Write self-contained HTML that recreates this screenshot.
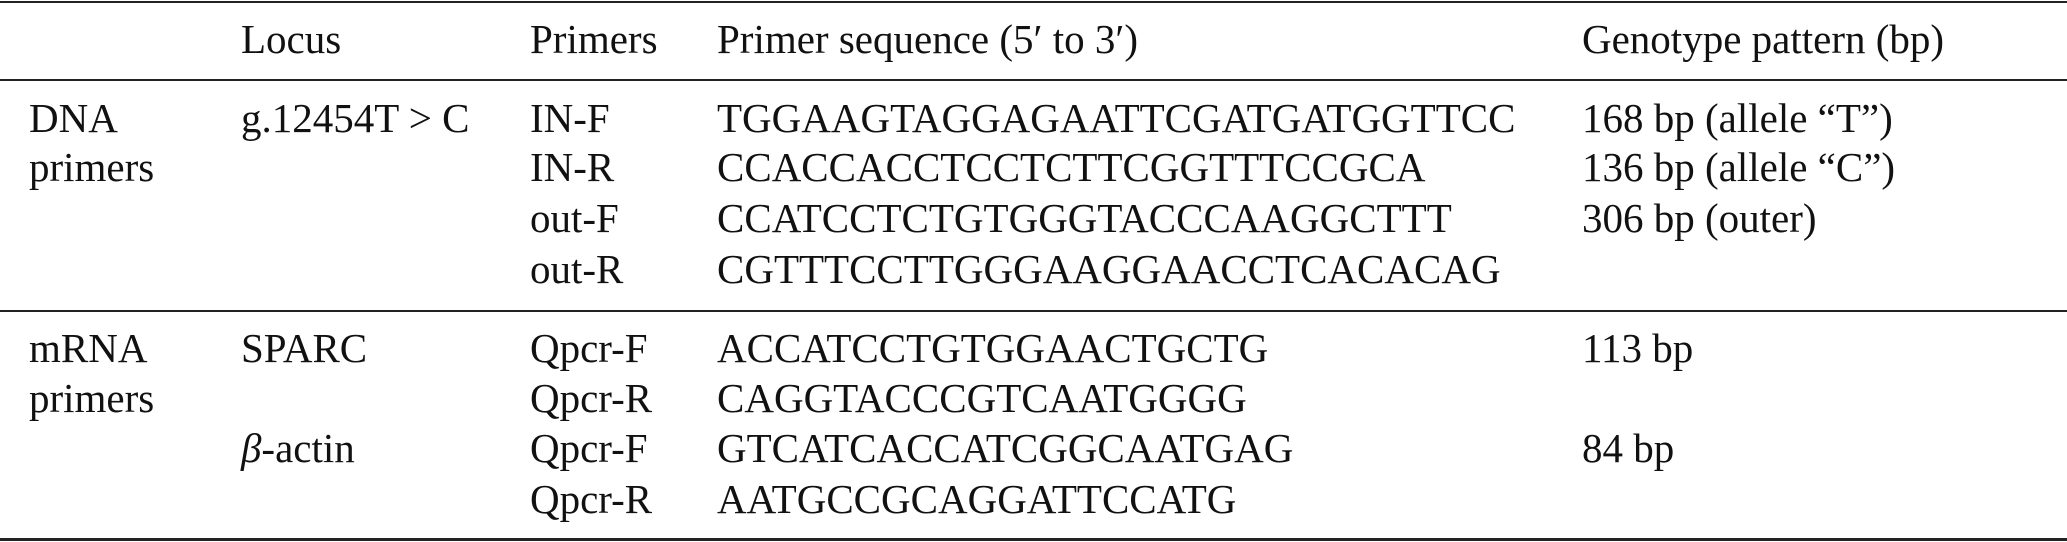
<!DOCTYPE html>
<html><head><meta charset="utf-8"><style>
html,body{margin:0;padding:0;background:#fff;}
body{width:2067px;height:542px;position:relative;overflow:hidden;font-family:"Liberation Serif","DejaVu Serif",serif;font-size:41px;color:#111;}
.r{position:absolute;left:0;width:2067px;height:2px;background:#222;}
.t{position:absolute;white-space:nowrap;line-height:1;}
</style></head><body>
<div class="r" style="top:1px"></div>
<div class="r" style="top:79px"></div>
<div class="r" style="top:310px"></div>
<div class="r" style="top:538px;height:3px"></div>
<script>
</script>
<div id="c"></div>
<div class="t" style="left:241px;top:19px">Locus</div>
<div class="t" style="left:530px;top:19px">Primers</div>
<div class="t" style="left:717px;top:19px">Primer sequence (5′ to 3′)</div>
<div class="t" style="left:1582px;top:19px">Genotype pattern (bp)</div>

<div class="t" style="left:29px;top:98px">DNA</div>
<div class="t" style="left:29px;top:147px">primers</div>
<div class="t" style="left:241px;top:98px">g.12454T &gt; C</div>
<div class="t" style="left:530px;top:98px">IN-F</div>
<div class="t" style="left:530px;top:147px">IN-R</div>
<div class="t" style="left:530px;top:198px">out-F</div>
<div class="t" style="left:530px;top:249px">out-R</div>
<div class="t" style="left:717px;top:98px">TGGAAGTAGGAGAATTCGATGATGGTTCC</div>
<div class="t" style="left:717px;top:147px">CCACCACCTCCTCTTCGGTTTCCGCA</div>
<div class="t" style="left:717px;top:198px">CCATCCTCTGTGGGTACCCAAGGCTTT</div>
<div class="t" style="left:717px;top:249px">CGTTTCCTTGGGAAGGAACCTCACACAG</div>
<div class="t" style="left:1582px;top:98px">168 bp (allele “T”)</div>
<div class="t" style="left:1582px;top:147px">136 bp (allele “C”)</div>
<div class="t" style="left:1582px;top:198px">306 bp (outer)</div>

<div class="t" style="left:29px;top:328px">mRNA</div>
<div class="t" style="left:29px;top:378px">primers</div>
<div class="t" style="left:241px;top:328px">SPARC</div>
<div class="t" style="left:241px;top:428px"><i>β</i>-actin</div>
<div class="t" style="left:530px;top:328px">Qpcr-F</div>
<div class="t" style="left:530px;top:378px">Qpcr-R</div>
<div class="t" style="left:530px;top:428px">Qpcr-F</div>
<div class="t" style="left:530px;top:479px">Qpcr-R</div>
<div class="t" style="left:717px;top:328px">ACCATCCTGTGGAACTGCTG</div>
<div class="t" style="left:717px;top:378px">CAGGTACCCGTCAATGGGG</div>
<div class="t" style="left:717px;top:428px">GTCATCACCATCGGCAATGAG</div>
<div class="t" style="left:717px;top:479px">AATGCCGCAGGATTCCATG</div>
<div class="t" style="left:1582px;top:328px">113 bp</div>
<div class="t" style="left:1582px;top:428px">84 bp</div>
</body></html>
